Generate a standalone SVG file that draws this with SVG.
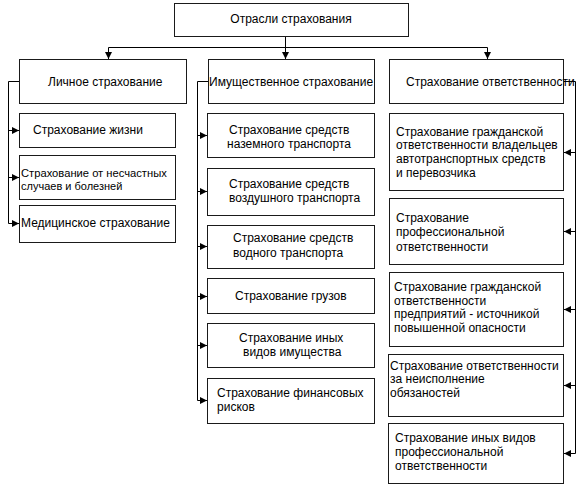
<svg xmlns="http://www.w3.org/2000/svg" width="581" height="487" viewBox="0 0 581 487">
<defs>
<marker id="arr" markerUnits="userSpaceOnUse" markerWidth="8" markerHeight="8" refX="7" refY="4" orient="auto">
<path d="M0,0.5 L7,4 L0,7.5 Z" fill="#000"/>
</marker>
<style>
.box{fill:#fff;stroke:#1a1a1a;stroke-width:1}
text{font-family:"Liberation Sans",Arial,sans-serif;font-size:12px;fill:#000}
.c{text-anchor:middle}
.ln{fill:none;stroke:#000;stroke-width:1}
.a{fill:none;stroke:#000;stroke-width:1;marker-end:url(#arr)}
</style>
</defs>
<rect width="581" height="487" fill="#fff"/>

<g id="connectors">
<path class="ln" d="M108.5,47.5 H487.5"/>
<path class="a" d="M285.5,36 V59"/>
<path class="a" d="M108.5,47.5 V59"/>
<path class="a" d="M487.5,47.5 V59"/>
<path class="ln" d="M19,81.5 H8.5 V223.5"/>
<path class="a" d="M8.5,130.5 H19"/>
<path class="a" d="M8.5,177.5 H19"/>
<path class="a" d="M8.5,223.5 H19"/>
<path class="ln" d="M208,81.5 H197.5 V400.5"/>
<path class="a" d="M197.5,135.5 H207"/>
<path class="a" d="M197.5,191.5 H207"/>
<path class="a" d="M197.5,246.5 H207"/>
<path class="a" d="M197.5,296.5 H207"/>
<path class="a" d="M197.5,345.5 H207"/>
<path class="a" d="M197.5,400.5 H207"/>
<path class="ln" d="M563,81.5 H575.5 V453.5"/>
<path class="a" d="M575.5,152.5 H564"/>
<path class="a" d="M575.5,231.5 H564"/>
<path class="a" d="M575.5,309.5 H564"/>
<path class="a" d="M575.5,385.5 H564"/>
<path class="a" d="M575.5,453.5 H564"/>
</g>

<g id="root">
<rect class="box" x="174.5" y="3.5" width="234" height="33"/>
<text class="c" x="291" y="23">Отрасли страхования</text>
</g>

<g id="personal">
<rect class="box" x="19.5" y="59.5" width="167" height="44"/>
<text x="48" y="86">Личное страхование</text>
</g>
<g id="property">
<rect class="box" x="208.5" y="59.5" width="166" height="44"/>
<text x="209" y="86">Имущественное страхование</text>
</g>
<g id="liability">
<rect class="box" x="389.5" y="59.5" width="174" height="44"/>
<text x="406" y="86">Страхование ответственности</text>
</g>

<g id="life">
<rect class="box" x="19.5" y="113.5" width="156" height="34"/>
<text x="33" y="134">Страхование жизни</text>
</g>
<g id="accident">
<rect class="box" x="19.5" y="155.5" width="156" height="44"/>
<text x="21" y="177" style="font-size:11.2px">Страхование от несчастных</text>
<text x="21" y="190" style="font-size:11px">случаев и болезней</text>
</g>
<g id="medical">
<rect class="box" x="19.5" y="205.5" width="156" height="37"/>
<text x="21" y="227">Медицинское страхование</text>
</g>

<g id="land">
<rect class="box" x="207.5" y="113.5" width="167" height="44"/>
<text x="229" y="134">Страхование средств</text>
<text x="227" y="148">наземного транспорта</text>
</g>
<g id="air">
<rect class="box" x="207.5" y="168.5" width="167" height="47"/>
<text x="229" y="188">Страхование средств</text>
<text x="229" y="202">воздушного транспорта</text>
</g>
<g id="water">
<rect class="box" x="207.5" y="225.5" width="167" height="43"/>
<text x="233" y="242">Страхование средств</text>
<text x="233" y="257">водного транспорта</text>
</g>
<g id="cargo">
<rect class="box" x="207.5" y="278.5" width="167" height="35"/>
<text x="235" y="300">Страхование грузов</text>
</g>
<g id="other-property">
<rect class="box" x="207.5" y="323.5" width="167" height="44"/>
<text x="239" y="342">Страхование иных</text>
<text x="243" y="356">видов имущества</text>
</g>
<g id="financial">
<rect class="box" x="207.5" y="378.5" width="167" height="45"/>
<text x="217" y="397">Страхование финансовых</text>
<text x="217" y="411">рисков</text>
</g>

<g id="motor">
<rect class="box" x="389.5" y="113.5" width="174" height="77"/>
<text x="396" y="136">Страхование гражданской</text>
<text x="396" y="149">ответственности владельцев</text>
<text x="396" y="163">автотранспортных средств</text>
<text x="396" y="177">и перевозчика</text>
</g>
<g id="professional">
<rect class="box" x="389.5" y="198.5" width="174" height="66"/>
<text x="396" y="222">Страхование</text>
<text x="396" y="236">профессиональной</text>
<text x="396" y="251">ответственности</text>
</g>
<g id="hazard">
<rect class="box" x="389.5" y="272.5" width="174" height="74"/>
<text x="394" y="291">Страхование гражданской</text>
<text x="394" y="305">ответственности</text>
<text x="394" y="318">предприятий - источникой</text>
<text x="394" y="332">повышенной опасности</text>
</g>
<g id="nonperformance">
<rect class="box" x="388.5" y="354.5" width="175" height="62"/>
<text x="390" y="370">Страхование ответственности</text>
<text x="390" y="383">за неисполнение</text>
<text x="390" y="397">обязаностей</text>
</g>
<g id="other-professional">
<rect class="box" x="388.5" y="423.5" width="175" height="60"/>
<text x="395" y="442">Страхование иных видов</text>
<text x="395" y="456">профессиональной</text>
<text x="395" y="470">ответственности</text>
</g>
</svg>
